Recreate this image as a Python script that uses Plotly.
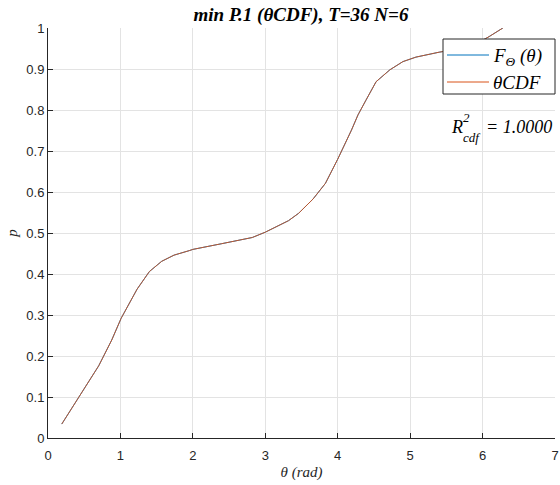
import plotly.graph_objects as go

theta = [0.19, 0.70, 0.88, 1.01, 1.23, 1.40, 1.57, 1.74, 1.95, 2.00, 2.40, 2.82, 3.00,
         3.18, 3.32, 3.46, 3.66, 3.83, 4.00, 4.19, 4.28, 4.39, 4.53, 4.72, 4.90, 5.08,
         5.40, 5.70, 5.95, 6.09, 6.28]
p_cdf = [0.034, 0.176, 0.239, 0.292, 0.363, 0.406, 0.431, 0.446, 0.457, 0.460, 0.474, 0.489, 0.502,
         0.517, 0.530, 0.548, 0.583, 0.621, 0.680, 0.751, 0.788, 0.824, 0.869, 0.898, 0.918, 0.929,
         0.941, 0.950, 0.965, 0.979, 1.000]
p_theta = list(p_cdf)

series_names = ["<i>F<sub>Θ</sub> (θ)</i>", "<i>θCDF</i>"]
series_colors = ["#0072BD", "#D95319"]

x_ticks = [0, 1, 2, 3, 4, 5, 6, 7]
y_ticks = [0, 0.1, 0.2, 0.3, 0.4, 0.5, 0.6, 0.7, 0.8, 0.9, 1]

SERIF = "Liberation Serif, Times New Roman, serif"
SANS = "Liberation Sans, Arial, sans-serif"

fig = go.Figure()
fig.add_trace(go.Scatter(x=theta, y=p_theta, mode="lines", name=series_names[0],
                         line=dict(color=series_colors[0], width=1), showlegend=False))
fig.add_trace(go.Scatter(x=theta, y=p_cdf, mode="lines", name=series_names[1],
                         line=dict(color=series_colors[1], width=1), opacity=0.85, showlegend=False))

L, R, T, B = 48, 5, 28, 47
W, H = 560, 485

def px(xp):
    return (xp - L) / (W - L - R)

def py(yp):
    return (H - B - yp) / (H - T - B)

fig.update_layout(
    width=W, height=H,
    margin=dict(l=L, r=R, t=T, b=B, autoexpand=False),
    paper_bgcolor="white", plot_bgcolor="white",
    font=dict(family=SANS, size=13, color="#262626"),
    title=dict(text="<b><i>min P.1 (θCDF), T=36 N=6</i></b>", xref="paper", x=px(301), xanchor="center",
               y=1 - 14 / H, yanchor="middle", font=dict(family=SERIF, size=19, color="black")),
    showlegend=False,
)
fig.update_xaxes(range=[0, 7], tickvals=x_ticks, ticktext=[str(v) for v in x_ticks],
                 showgrid=True, gridcolor="#e3e3e3", gridwidth=1,
                 showline=True, linecolor="#262626", linewidth=1,
                 ticks="inside", ticklen=5, tickcolor="#262626",
                 ticklabeloverflow="allow", ticklabelstandoff=5, automargin=False,
                 zeroline=False, fixedrange=True,
                 title=dict(text="<i>θ (rad)</i>", font=dict(family=SERIF, size=15, color="#262626"),
                            standoff=4))
fig.update_yaxes(range=[0, 1], tickvals=y_ticks, ticktext=[("%g" % v) for v in y_ticks],
                 showgrid=True, gridcolor="#e3e3e3", gridwidth=1,
                 showline=True, linecolor="#262626", linewidth=1,
                 ticks="inside", ticklen=5, tickcolor="#262626",
                 ticklabeloverflow="allow", automargin=False,
                 zeroline=False, fixedrange=True,
                 title=dict(text="<i>p</i>", font=dict(family=SERIF, size=15, color="#262626"),
                            standoff=5))

# legend box (drawn manually to match MATLAB layout)
fig.add_shape(type="rect", xref="paper", yref="paper", x0=px(443), x1=px(555), y0=py(94), y1=py(39),
              fillcolor="white", line=dict(color="#262626", width=1), layer="above")
row_y = [55, 82]
for name, col, ry, ty in zip(series_names, series_colors, row_y, [57, 82]):
    fig.add_shape(type="line", xref="paper", yref="paper", x0=px(447), x1=px(489), y0=py(ry), y1=py(ry),
                  line=dict(color=col, width=1), layer="above")
    fig.add_annotation(xref="paper", yref="paper", x=px(491), y=py(ty), xanchor="left", yanchor="middle",
                       text=name, showarrow=False, font=dict(family=SERIF, size=19, color="black"))

ann_font = dict(family=SERIF, size=18, color="black")
fig.add_annotation(xref="paper", yref="paper", x=px(449), y=py(127), xanchor="left", yanchor="middle",
                   text="<i>R</i>", showarrow=False, font=ann_font)
fig.add_annotation(xref="paper", yref="paper", x=px(461), y=py(118), xanchor="left", yanchor="middle",
                   text="<i>2</i>", showarrow=False, font=dict(family=SERIF, size=13, color="black"))
fig.add_annotation(xref="paper", yref="paper", x=px(461), y=py(137), xanchor="left", yanchor="middle",
                   text="<i>cdf</i>", showarrow=False, font=dict(family=SERIF, size=13, color="black"))
fig.add_annotation(xref="paper", yref="paper", x=px(484), y=py(127), xanchor="left", yanchor="middle",
                   text="<i>= 1.0000</i>", showarrow=False, font=ann_font)

fig.write_html("out.html")
